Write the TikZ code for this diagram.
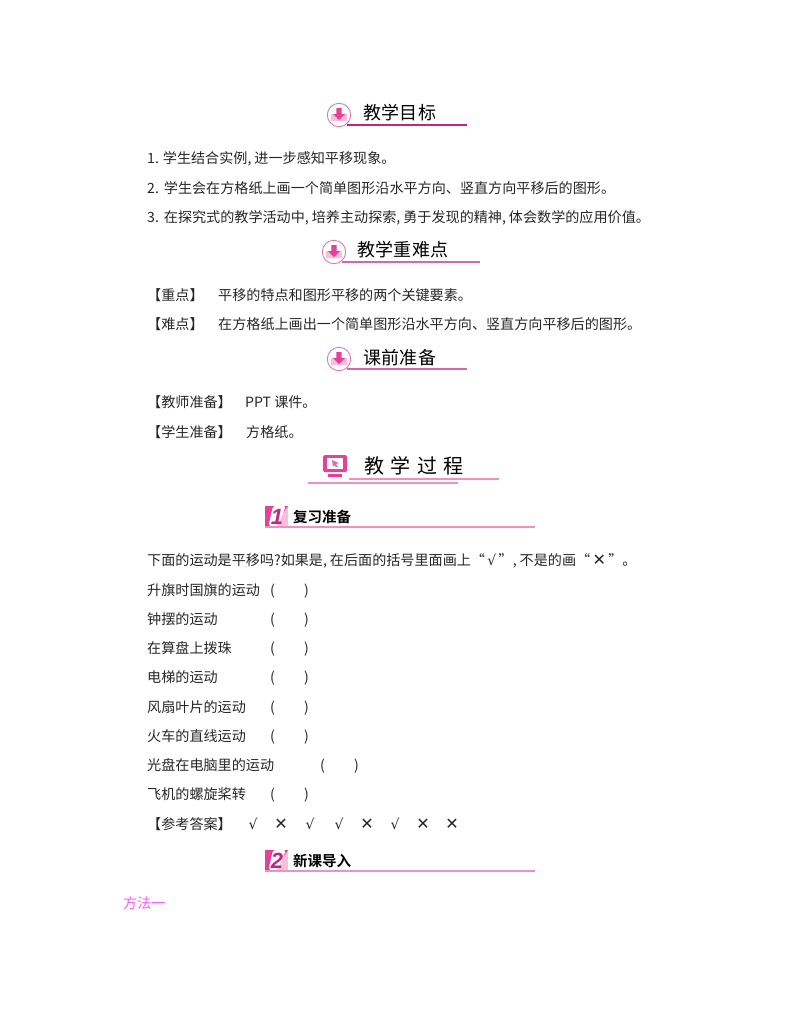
\documentclass[tikz,border=0pt]{standalone}
\usepackage{fontspec}
\setmainfont{Noto Sans CJK SC}
\newfontfamily\headfont[LetterSpace=2]{Noto Sans CJK SC}
\newfontfamily\boldfont{Noto Sans CJK SC Bold}
\newfontfamily\numfont{Liberation Sans Bold Italic}
\newfontfamily\signfont{DejaVu Sans}
\definecolor{rosedark}{HTML}{C2258A}
\definecolor{rosemid}{HTML}{E6409A}
\definecolor{roselight}{HTML}{F7BFD8}
\definecolor{roseline}{HTML}{F090C0}
\definecolor{methodpink}{HTML}{FF5CFF}
\newcommand{\cm}{,\hspace{3pt}}
\newcommand{\yes}{{\signfont\fontsize{14}{14}\selectfont √}}
\newcommand{\no}{{\signfont\fontsize{16}{16}\selectfont ✕}}
\tikzset{
    bodytext/.style={anchor=west,inner sep=0pt,text height=13pt,text depth=2pt,text=black!85,font=\fontsize{14.1}{14.1}\selectfont},
    headtext/.style={anchor=west,inner sep=0pt,text height=16pt,text depth=3pt,text=black,font=\headfont\fontsize{18}{18}\selectfont},
    bartext/.style={anchor=west,inner sep=0pt,text height=13pt,text depth=2pt,text=black,font=\boldfont\fontsize{14.5}{14.5}\selectfont},
    marktext/.style={anchor=center,inner sep=0pt,text=black!85},
}
% round arrow badge, arguments: x, y of the centre
\newcommand{\arrowbadge}[2]{
    \begin{scope}[shift={(#1,#2)}]
        \draw[draw=rosedark!60,fill=white,line width=0.9pt] (0,0) circle (11.7);
        \fill[roselight] (-8,-1) -- (-5,-1) -- (-5,0) -- (5,0) -- (5,-1) -- (8,-1) -- (8,6) -- (-8,6) -- cycle;
        \fill[rosemid] (-2.7,-7) rectangle (2.7,-1) (-6,-1) -- (6,-1) -- (0,5) -- cycle;
    \end{scope}
}
% numbered bar, arguments: x, y of the bottom line, number
\newcommand{\numberbar}[3]{
    \begin{scope}[shift={(#1,#2)}]
        \fill[roselight] (0,-21) rectangle (23,0);
        \fill[rosemid] (0,-21) -- (23,-21) -- (8,0) -- (0,0) -- cycle;
        \fill[white,rounded corners=2.5pt] (3.5,-1) -- (12.5,-1) -- (21,-21) -- (8,-21) -- cycle;
        \node[inner sep=0pt,text=rosedark,font=\numfont\fontsize{22}{22}\selectfont] (badge#3) at (12,-10.5) {#3};
        \fill[roseline] (0,-0.7) rectangle (270,0.7);
    \end{scope}
}
\begin{document}
\begin{tikzpicture}[x=1pt,y=-1pt]
    \useasboundingbox (0,0) rectangle (800,1028);

    % section heads
    \arrowbadge{339}{115}
    \fill[rosedark] (347,124.3) rectangle (467,125.7);
    \node[headtext] (goalhead) at (363,113) {教学目标};

    \arrowbadge{334}{252}
    \fill[rosedark!70] (342,261.3) rectangle (480,262.7);
    \node[headtext] (hardhead) at (357,250) {教学重难点};

    \arrowbadge{339}{359}
    \fill[rosedark!70] (347,368.3) rectangle (467,369.7);
    \node[headtext] (prephead) at (363,358) {课前准备};

    \node[bodytext] (goalone) at (147,158) {1.\hspace{4pt}学生结合实例\cm 进一步感知平移现象。};
    \node[bodytext] (goaltwo) at (147,188) {2.\hspace{5pt}学生会在方格纸上画一个简单图形沿水平方向、竖直方向平移后的图形。};
    \node[bodytext] (goalthree) at (147,217) {3.\hspace{5pt}在探究式的教学活动中\cm 培养主动探索\cm 勇于发现的精神\cm 体会数学的应用价值。};

    \node[bodytext] (keytag) at (147,295) {【重点】};
    \node[bodytext] (keytext) at (218,295) {平移的特点和图形平移的两个关键要素。};
    \node[bodytext] (hardtag) at (147,324) {【难点】};
    \node[bodytext] (hardtext) at (218,324) {在方格纸上画出一个简单图形沿水平方向、竖直方向平移后的图形。};

    \node[bodytext] (teachtag) at (147,402) {【教师准备】};
    \node[bodytext] (teachtext) at (245,402) {PPT 课件。};
    \node[bodytext] (pupiltag) at (147,432) {【学生准备】};
    \node[bodytext] (pupiltext) at (246,432) {方格纸。};

    % teaching process head
    \fill[rosemid,rounded corners=1.5pt] (323,455) rectangle (347,472);
    \fill[white] (327,458) rectangle (343,469);
    \fill[rosemid!80] (332,460) -- (339,463) -- (336,464) -- (338,467) -- (336,467) -- (334,465) -- (333,467) -- cycle;
    \fill[rosemid] (328,474) rectangle (342,477);
    \fill[roseline] (349,478.3) rectangle (499,479.7);
    \fill[roseline] (308,482.3) rectangle (458,483.7);
    \node[anchor=west,inner sep=0pt,text=black,font=\fontsize{20}{20}\selectfont] (processhead) at (364,466) {教\hspace{6.5pt}学\hspace{6.5pt}过\hspace{6.5pt}程};

    \numberbar{265}{527}{1}
    \node[bartext] (reviewhead) at (293,517) {复习准备};

    \node[bodytext] (question) at (147,560) {下面的运动是平移吗?如果是\cm 在后面的括号里面画上“\,\yes\,”\cm 不是的画“\,\no\,”。};

    \foreach \name/\ypos/\words in {a/590/升旗时国旗的运动,b/619/钟摆的运动,c/648/在算盘上拨珠,d/677/电梯的运动,e/707/风扇叶片的运动,f/736/火车的直线运动,h/794/飞机的螺旋桨转}{
        \node[bodytext] (item\name) at (147,\ypos) {\words};
        \node[bodytext] (open\name) at (270,\ypos) {(};
        \node[bodytext] (shut\name) at (304,\ypos) {)};
    }
    \node[bodytext] (itemg) at (147,765) {光盘在电脑里的运动};
    \node[bodytext] (openg) at (320,765) {(};
    \node[bodytext] (shutg) at (354,765) {)};

    \node[bodytext] (answertag) at (147,824) {【参考答案】};
    \foreach \name/\xpos/\sign in {r/253/\yes,s/281/\no,t/310/\yes,u/339/\yes,v/367/\no,w/395/\yes,y/423/\no,z/452/\no}{
        \node[marktext] (mark\name) at (\xpos,824) {\sign};
    }

    \numberbar{265}{871}{2}
    \node[bartext] (newhead) at (293,861) {新课导入};

    \node[bodytext,text=methodpink] (method) at (123,903) {方法一};
\end{tikzpicture}
\end{document}
